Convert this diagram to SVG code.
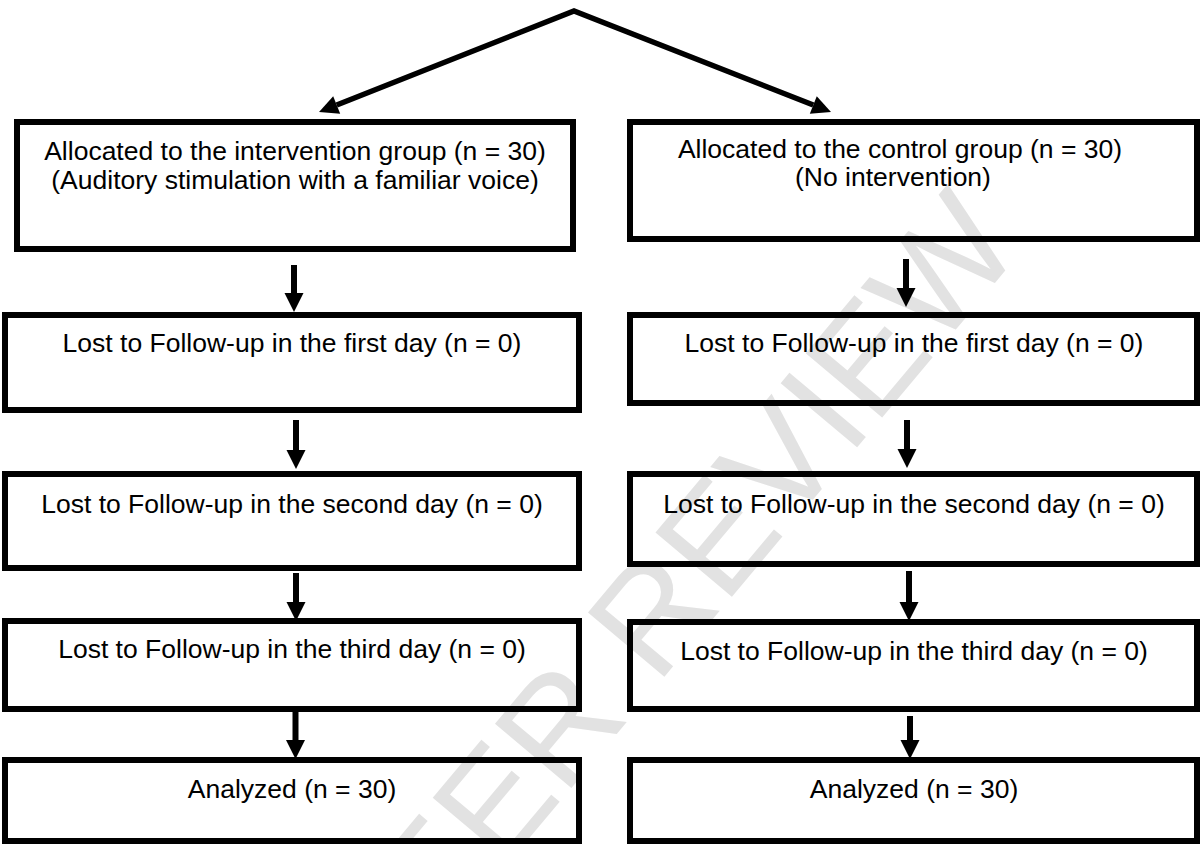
<svg xmlns="http://www.w3.org/2000/svg" width="1204" height="844" viewBox="0 0 1204 844">
  <style>
    .box { fill: none; stroke: #000; stroke-width: 6; }
    .lbl { font-family: "Liberation Sans", Arial, sans-serif; font-size: 26.5px; fill: #000; text-anchor: middle; }
    .wm { font-family: "Liberation Sans", Arial, sans-serif; font-size: 145px; fill: #e2e2e2; text-anchor: middle; }
    .conn { fill: none; stroke: #000; stroke-width: 6; }
    .diag { fill: none; stroke: #000; stroke-width: 5.5; stroke-linejoin: miter; stroke-miterlimit: 10; }
  </style>
  <defs>
    <marker id="ah" markerUnits="userSpaceOnUse" markerWidth="20" markerHeight="20" refX="0" refY="9.5" orient="auto-start-reverse" overflow="visible">
      <path d="M0,0 L19,9.5 L0,19 Z" fill="#000"/>
    </marker>
  </defs>
  <rect x="0" y="0" width="1204" height="844" fill="#fff"/>
  <text class="wm" transform="translate(661,600) rotate(-50)" x="0" y="52">PEER REVIEW</text>

  <g id="connectors">
    <polyline class="diag" points="336.7,105 574,11 813.3,105" marker-start="url(#ah)" marker-end="url(#ah)"/>
    <line class="conn" x1="294" y1="265" x2="294" y2="293" marker-end="url(#ah)"/>
    <line class="conn" x1="296" y1="420" x2="296" y2="450" marker-end="url(#ah)"/>
    <line class="conn" x1="296" y1="573" x2="296" y2="602" marker-end="url(#ah)"/>
    <line class="conn" x1="295.5" y1="712" x2="295.5" y2="740" marker-end="url(#ah)"/>
    <line class="conn" x1="906" y1="259" x2="906" y2="288" marker-end="url(#ah)"/>
    <line class="conn" x1="907" y1="420" x2="907" y2="449" marker-end="url(#ah)"/>
    <line class="conn" x1="909" y1="571" x2="909" y2="602" marker-end="url(#ah)"/>
    <line class="conn" x1="910" y1="716" x2="910" y2="740" marker-end="url(#ah)"/>
  </g>

  <g id="int-alloc">
    <rect class="box" x="17" y="122" width="556" height="127"/>
    <text class="lbl" x="295" y="160">Allocated to the intervention group (n = 30)</text>
    <text class="lbl" x="295" y="189">(Auditory stimulation with a familiar voice)</text>
  </g>
  <g id="int-day1">
    <rect class="box" x="5" y="315" width="574" height="95"/>
    <text class="lbl" x="292" y="352">Lost to Follow-up in the first day (n = 0)</text>
  </g>
  <g id="int-day2">
    <rect class="box" x="5" y="474" width="574" height="94"/>
    <text class="lbl" x="292" y="513">Lost to Follow-up in the second day (n = 0)</text>
  </g>
  <g id="int-day3">
    <rect class="box" x="5" y="621" width="574" height="88"/>
    <text class="lbl" x="292" y="658">Lost to Follow-up in the third day (n = 0)</text>
  </g>
  <g id="int-analyzed">
    <rect class="box" x="5" y="760" width="574" height="81"/>
    <text class="lbl" x="292" y="798">Analyzed (n = 30)</text>
  </g>

  <g id="ctl-alloc">
    <rect class="box" x="630" y="122" width="567" height="117"/>
    <text class="lbl" x="900" y="158">Allocated to the control group (n = 30)</text>
    <text class="lbl" x="893" y="186">(No intervention)</text>
  </g>
  <g id="ctl-day1">
    <rect class="box" x="630" y="315" width="567" height="88"/>
    <text class="lbl" x="914" y="352">Lost to Follow-up in the first day (n = 0)</text>
  </g>
  <g id="ctl-day2">
    <rect class="box" x="630" y="474" width="567" height="90"/>
    <text class="lbl" x="914" y="513">Lost to Follow-up in the second day (n = 0)</text>
  </g>
  <g id="ctl-day3">
    <rect class="box" x="630" y="622" width="567" height="87"/>
    <text class="lbl" x="914" y="660">Lost to Follow-up in the third day (n = 0)</text>
  </g>
  <g id="ctl-analyzed">
    <rect class="box" x="630" y="760" width="567" height="81"/>
    <text class="lbl" x="914" y="798">Analyzed (n = 30)</text>
  </g>
</svg>
